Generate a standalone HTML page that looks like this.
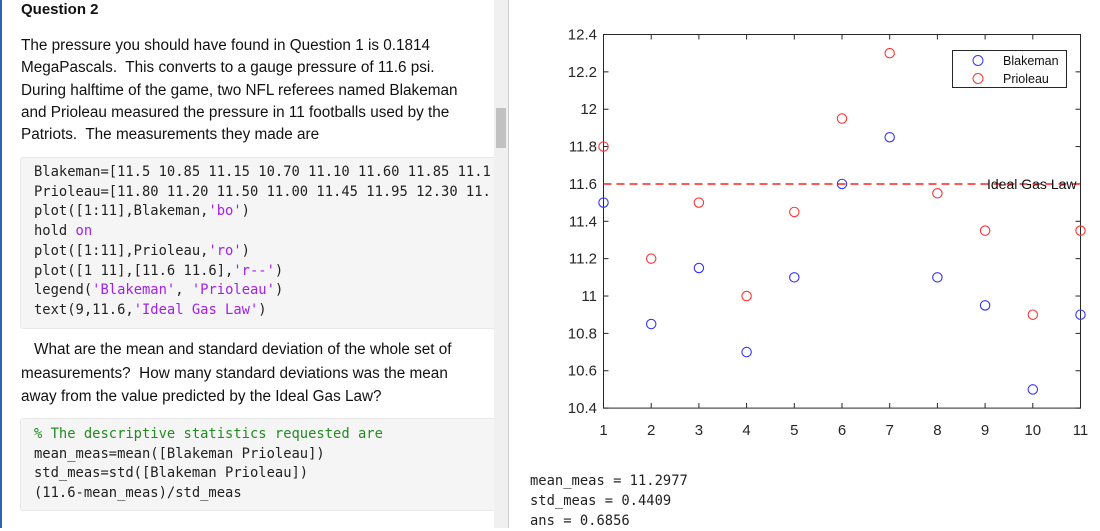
<!DOCTYPE html>
<html><head><meta charset="utf-8"><style>
body{margin:0;width:1100px;height:528px;overflow:hidden;background:#fff;font-family:"Liberation Sans",Arial,sans-serif;position:relative}
.bl{position:absolute;left:0;top:0;width:2px;height:528px;background:#2a64b4}
.t{position:absolute;left:21px;font-size:15.3px;color:#111;white-space:nowrap}
.code{position:absolute;left:20px;width:476px;background:#f5f5f5;border:1px solid #e8e8e8;border-radius:3px}
.c{position:absolute;left:34px;font-family:"DejaVu Sans Mono","Liberation Mono",monospace;font-size:13.8px;color:#222;white-space:pre}
.p{color:#a020f0}.g{color:#228b22}
.sb{position:absolute;left:494px;top:0;width:14px;height:528px;background:#f0f0f0;border-right:1px solid #ccc}
.th{position:absolute;left:496px;top:108px;width:10px;height:40px;background:#c1c1c1}
.o{position:absolute;left:530px;font-family:"DejaVu Sans Mono","Liberation Mono",monospace;font-size:13.8px;color:#222;white-space:pre}
</style></head><body>
<div class="bl"></div>
<div class="t" style="top:1px;font-weight:bold;font-size:15px">Question 2</div>
<div class="t" style="top:35px;line-height:22.3px">The pressure you should have found in Question 1 is 0.1814<br>MegaPascals.&nbsp; This converts to a gauge pressure of 11.6 psi.<br>During halftime of the game, two NFL referees named Blakeman<br>and Prioleau measured the pressure in 11 footballs used by the<br>Patriots.&nbsp; The measurements they made are</div>
<div class="code" style="top:157px;height:170px"></div>
<div class="c" style="top:163px;line-height:19.7px;width:460px;overflow:hidden">Blakeman=[11.5 10.85 11.15 10.70 11.10 11.60 11.85 11.1
Prioleau=[11.80 11.20 11.50 11.00 11.45 11.95 12.30 11.
plot([1:11],Blakeman,<span class="p">'bo'</span>)
hold <span class="p">on</span>
plot([1:11],Prioleau,<span class="p">'ro'</span>)
plot([1 11],[11.6 11.6],<span class="p">'r--'</span>)
legend(<span class="p">'Blakeman'</span>, <span class="p">'Prioleau'</span>)
text(9,11.6,<span class="p">'Ideal Gas Law'</span>)</div>
<div class="t" style="top:341px;left:34px">What are the mean and standard deviation of the whole set of</div>
<div class="t" style="top:363px;line-height:22.5px">measurements?&nbsp; How many standard deviations was the mean<br>away from the value predicted by the Ideal Gas Law?</div>
<div class="code" style="top:418px;height:91px"></div>
<div class="c" style="top:425px;line-height:19.5px"><span class="g">% The descriptive statistics requested are</span>
mean_meas=mean([Blakeman Prioleau])
std_meas=std([Blakeman Prioleau])
(11.6-mean_meas)/std_meas</div>
<div class="sb"></div><div class="th"></div>
<div class="o" style="top:471px;line-height:20px">mean_meas = 11.2977
std_meas = 0.4409
ans = 0.6856</div>
<svg style="position:absolute;left:0;top:0" width="1100" height="528" font-family="Liberation Sans,Arial,sans-serif" font-size="15" fill="#262626">
<rect x="603.5" y="34.5" width="477" height="373.6" fill="none" stroke="#262626" stroke-width="1"/>
<g stroke="#262626" stroke-width="1" id="tk"></g>
<g id="lab"></g>
<line x1="603.5" y1="184" x2="1080.5" y2="184" stroke="#ff2020" stroke-width="1.4" stroke-dasharray="8,5"/>
<g fill="none" stroke-width="1.1" id="pts"></g>
<text x="987" y="189" font-size="14" fill="#111">Ideal Gas Law</text>
<rect x="952.5" y="50.5" width="114" height="37" fill="#fff" stroke="#262626"/>
<circle cx="978" cy="60.5" r="5" fill="none" stroke="#3333ff"/>
<circle cx="978" cy="78.5" r="5" fill="none" stroke="#ff3333"/>
<text x="1003" y="65" font-size="12.5" fill="#111">Blakeman</text>
<text x="1003" y="83" font-size="12.5" fill="#111">Prioleau</text>
</svg>
<script>
var ns="http://www.w3.org/2000/svg";
function el(p,n,a,t){var e=document.createElementNS(ns,n);for(var k in a)e.setAttribute(k,a[k]);if(t)e.textContent=t;document.getElementById(p).appendChild(e);}
var X=function(i){return 603.5+(i-1)*47.7},Y=function(v){return 34.5+(12.4-v)*186.8};
for(var i=1;i<=11;i++){var x=X(i);el("tk","line",{x1:x,y1:408,x2:x,y2:403});el("tk","line",{x1:x,y1:34.5,x2:x,y2:39.5});
el("lab","text",{x:x,y:435,"text-anchor":"middle"},i);}
for(var j=0;j<=10;j++){var v=10.4+j*0.2,y=Y(v);el("tk","line",{x1:603.5,y1:y,x2:608.5,y2:y});el("tk","line",{x1:1080.5,y1:y,x2:1075.5,y2:y});
var s=(Math.round(v*10)/10).toString();el("lab","text",{x:597,y:y+5,"text-anchor":"end"},s);}
var B=[11.5,10.85,11.15,10.70,11.10,11.60,11.85,11.10,10.95,10.50,10.90],P=[11.80,11.20,11.50,11.00,11.45,11.95,12.30,11.55,11.35,10.90,11.35];
for(var i=0;i<11;i++){el("pts","circle",{cx:X(i+1),cy:Y(B[i]),r:4.7,stroke:"#3333ff"});el("pts","circle",{cx:X(i+1),cy:Y(P[i]),r:4.7,stroke:"#ff3333"});}
</script>
</body></html>
